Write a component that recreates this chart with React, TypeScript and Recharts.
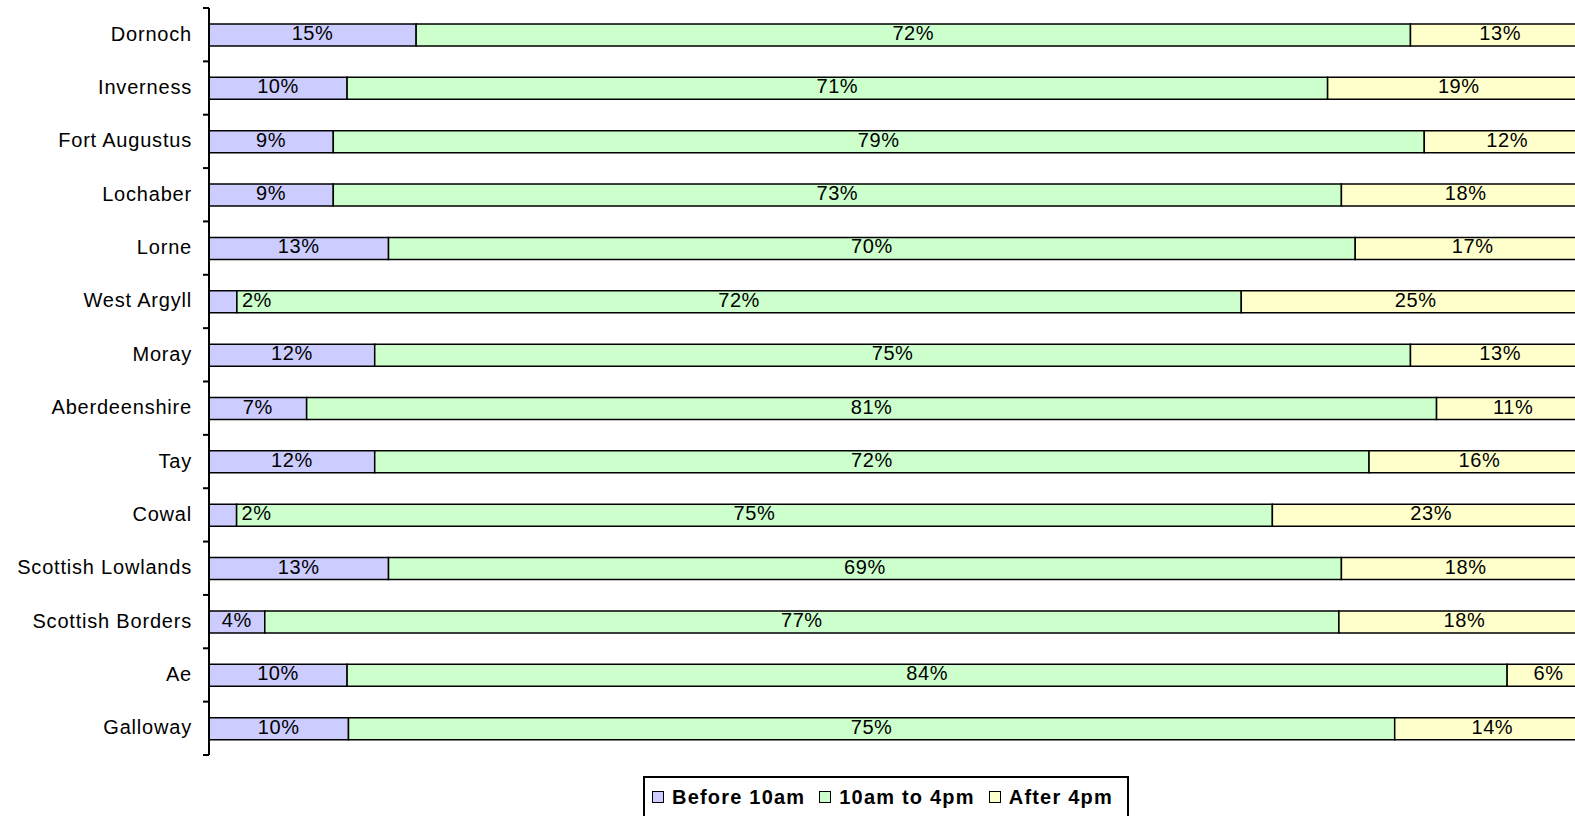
import { BarChart, Bar, XAxis, YAxis, LabelList, Legend } from "recharts";

const categories = [
  "Dornoch",
  "Inverness",
  "Fort Augustus",
  "Lochaber",
  "Lorne",
  "West Argyll",
  "Moray",
  "Aberdeenshire",
  "Tay",
  "Cowal",
  "Scottish Lowlands",
  "Scottish Borders",
  "Ae",
  "Galloway",
];
const before10 = [15, 10, 9, 9, 13, 2, 12, 7, 12, 2, 13, 4, 10, 10];
const midday = [72, 71, 79, 73, 70, 72, 75, 81, 72, 75, 69, 77, 84, 75];
const after4 = [13, 19, 12, 18, 17, 25, 13, 11, 16, 23, 18, 18, 6, 14];

const seriesNames = ["Before 10am", "10am to 4pm", "After 4pm"];
const colors = ["#CCCCFF", "#CCFFCC", "#FFFFCC"];

const data = categories.map((name, i) => ({
  name,
  before: before10[i],
  midday: midday[i],
  after: after4[i],
}));

const FONT = "'Liberation Sans', Arial, sans-serif";

function CategoryTick(props: any) {
  const { x, y, payload, index, visibleTicksCount } = props;
  const half = payload.offset ?? 26.7;
  const isLast = index === visibleTicksCount - 1;
  return (
    <g>
      <line x1={x - 6} x2={x} y1={y - half} y2={y - half} stroke="#000" strokeWidth={2} />
      {isLast && (
        <line x1={x - 6} x2={x} y1={y + half} y2={y + half} stroke="#000" strokeWidth={2} />
      )}
      <text
        x={x - 17}
        y={y}
        dy={6}
        textAnchor="end"
        fill="#000"
        fontSize={20}
        fontFamily={FONT}
        style={{ letterSpacing: "0.8px" }}
      >
        {payload.value}
      </text>
    </g>
  );
}

function SegmentLabel(props: any) {
  const { x, y, width, height, value } = props;
  const text = `${value}%`;
  const narrow = width < 34;
  return (
    <text
      x={narrow ? x + width + 5 : x + width / 2}
      y={y + height / 2}
      dy={5}
      textAnchor={narrow ? "start" : "middle"}
      fill="#000"
      fontSize={20}
      fontFamily={FONT}
      style={{ letterSpacing: "0.6px" }}
    >
      {text}
    </text>
  );
}

function LegendBox() {
  return (
    <div
      style={{
        display: "inline-flex",
        alignItems: "center",
        border: "2px solid #000",
        height: 38,
        padding: "0 14px 0 7px",
        background: "#fff",
        fontFamily: FONT,
        fontWeight: "bold",
        fontSize: 20,
        letterSpacing: "1.2px",
        boxSizing: "content-box",
        whiteSpace: "nowrap",
      }}
    >
      {seriesNames.map((n, i) => (
        <span key={n} style={{ display: "inline-flex", alignItems: "center", marginRight: i < 2 ? 14 : 0 }}>
          <span
            style={{
              display: "inline-block",
              width: 10,
              height: 10,
              background: colors[i],
              border: "1.5px solid #000",
              marginRight: 8,
            }}
          />
          {n}
        </span>
      ))}
    </div>
  );
}

export default function App() {
  return (
    <div
      style={{
        position: "absolute",
        left: 0,
        top: 0,
        width: 1575,
        height: 816,
        overflow: "hidden",
        background: "#fff",
      }}
    >
      <BarChart
        width={1600}
        height={816}
        data={data}
        layout="vertical"
        stackOffset="expand"
        barSize={22}
        margin={{ top: 8, right: 10, bottom: 19, left: 0 }}
      >
        <XAxis type="number" domain={[0, 1]} hide />
        <YAxis
          type="category"
          dataKey="name"
          width={209}
          interval={0}
          tickLine={false}
          tickSize={0}
          tickMargin={0}
          axisLine={{ stroke: "#000", strokeWidth: 2 }}
          tick={<CategoryTick />}
        />
        <Legend
          verticalAlign="bottom"
          content={<LegendBox />}
          wrapperStyle={{ position: "absolute", left: 643, top: 776, width: "auto" }}
        />
        <Bar dataKey="before" stackId="a" fill={colors[0]} stroke="#000" strokeWidth={1.5} isAnimationActive={false}>
          <LabelList dataKey="before" content={<SegmentLabel />} />
        </Bar>
        <Bar dataKey="midday" stackId="a" fill={colors[1]} stroke="#000" strokeWidth={1.5} isAnimationActive={false}>
          <LabelList dataKey="midday" content={<SegmentLabel />} />
        </Bar>
        <Bar dataKey="after" stackId="a" fill={colors[2]} stroke="#000" strokeWidth={1.5} isAnimationActive={false}>
          <LabelList dataKey="after" content={<SegmentLabel />} />
        </Bar>
      </BarChart>
    </div>
  );
}
